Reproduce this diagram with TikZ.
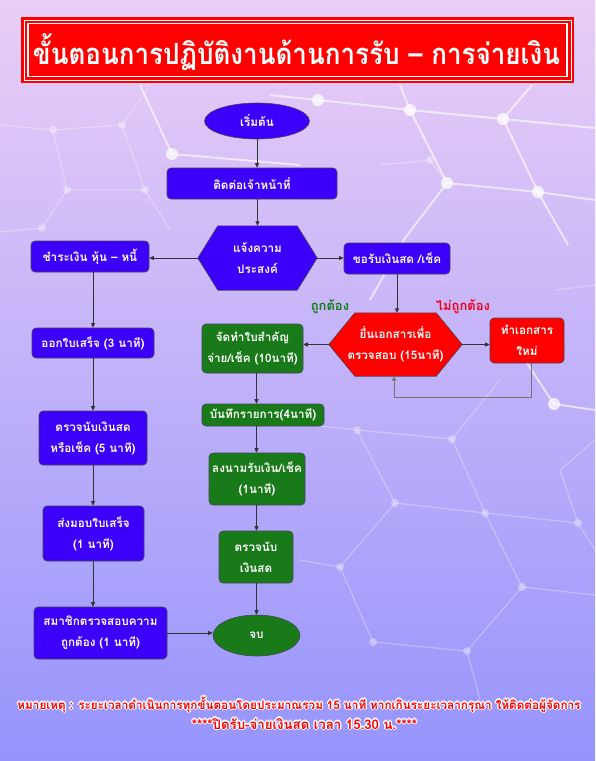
\documentclass[tikz,border=0pt]{standalone}
\usepackage{fontspec}
\setmainfont[Script=Thai]{Loma}
\usepackage{graphicx}
\usetikzlibrary{arrows.meta,shapes.geometric,calc}
\pgfdeclarelayer{back}
\pgfdeclarelayer{mid}
\pgfsetlayers{back,mid,main}
\definecolor{bgtop}{RGB}{234,206,246}
\definecolor{bgmid}{RGB}{182,166,250}
\definecolor{bgbot}{RGB}{150,148,252}
\definecolor{fblue}{RGB}{60,0,250}
\definecolor{fgreen}{RGB}{24,122,24}
\definecolor{fred}{RGB}{255,0,0}
\definecolor{edgec}{RGB}{70,70,85}
\definecolor{okgreen}{RGB}{20,125,20}
\definecolor{nored}{RGB}{240,0,30}
\newcommand{\hexpath}[3]{%
  \path[draw=edgec, line width=0.6pt, fill=#3] (#1.west) -- ([xshift=#2]#1.north west) -- ([xshift=-#2]#1.north east) -- (#1.east) -- ([xshift=-#2]#1.south east) -- ([xshift=#2]#1.south west) -- cycle;}
\newcommand{\outlinedtext}[4]{%
  \foreach \a in {0,45,...,315} \node[anchor=base, text=white, inner sep=0pt] at ($(#2)+(\a:1.4)$) {\bfseries\resizebox{#3}{!}{#4}};
  \node[anchor=base, text=fred, inner sep=0pt] (#1) at (#2) {\bfseries\resizebox{#3}{!}{#4}};}
\begin{document}
\begin{tikzpicture}[x=1pt,y=-1pt,
  txt/.style={text=white, font=\bfseries\fontsize{11.7}{21}\selectfont, align=center, inner sep=0pt},
  box/.style={txt, draw=edgec, line width=0.6pt, rounded corners=4pt},
  bluebox/.style={box, fill=fblue},
  greenbox/.style={box, fill=fgreen},
  redbox/.style={box, fill=fred},
  oval/.style={txt, ellipse, draw=edgec, line width=0.6pt},
  hexn/.style={txt},
  arr/.style={-{Triangle[length=4.5pt,width=4pt]}, line width=0.7pt, draw=black!80},
  bright/.style={white, opacity=0.6, line width=2pt},
  faint/.style={white, opacity=0.3, line width=1.2pt},
  bdot/.style={white, opacity=0.75},
  fdot/.style={white, opacity=0.35}]
\useasboundingbox (0,0) rectangle (595,761);
\begin{pgfonlayer}{back}
\shade[top color=bgtop, middle color=bgmid, bottom color=bgbot] (0,0) rectangle (595,761);
% faint network
\draw[faint] (0,125) -- (53,130) -- (122,125) -- (150,85);
\draw[faint] (53,130) -- (67,190) -- (145,190) -- (122,125);
\draw[faint] (67,190) -- (42,228) -- (0,232);
\draw[faint] (145,190) -- (170,230);
\draw[faint] (310,425) -- (357,430) -- (452,439) -- (500,380);
\draw[faint] (357,430) -- (395,503) -- (485,513) -- (578,523) -- (595,550);
\draw[faint] (452,439) -- (485,513) -- (522,587) -- (467,651) -- (373,642) -- (340,567) -- (395,503);
\draw[faint] (340,567) -- (300,560);
\draw[faint] (522,587) -- (595,595);
\draw[faint] (467,651) -- (480,700);
\draw[faint] (578,523) -- (560,470) -- (595,440);
\draw[faint] (555,290) -- (595,285);
\draw[faint] (447,183) -- (430,160) -- (380,165);
\foreach \p in {(53,130),(122,125),(67,190),(145,190),(42,228),(357,430),(452,439),(395,503),(485,513),(578,523),(340,567),(522,587),(467,651),(373,642),(430,160)}
  \fill[fdot] \p circle (4);
% bright network
\draw[bright] (140,85) -- (172,154) -- (300,165);
\draw[bright] (270,95) -- (318,100) -- (410,110) -- (503,119) -- (595,128);
\draw[bright] (400,85) -- (410,110) -- (447,183) -- (538,192) -- (595,200);
\draw[bright] (503,119) -- (532,85);
\draw[bright] (503,119) -- (538,192) -- (568,245);
\draw[bright] (447,183) -- (405,238) -- (370,300);
\draw[bright] (505,330) -- (554,404) -- (595,410);
\foreach \p in {(172,154),(318,100),(410,110),(503,119),(447,183),(538,192),(554,404)}
  \fill[bdot] \p circle (6);
\end{pgfonlayer}

% title banner
\fill[fred] (21,17) rectangle (574,83);
\draw[white, line width=0.9pt] (24,20) rectangle (571,80);
\draw[white, line width=1.2pt] (28,23.5) rectangle (567,76.5);
\node[anchor=base, text=white, inner sep=0pt] (title) at (296.5,64)
  {\bfseries\resizebox{527pt}{31pt}{ขั้นตอนการปฏิบัติงานด้านการรับ – การจ่ายเงิน}};

% nodes
\node[oval, fill=fblue, minimum width=105pt, minimum height=36pt] (start) at (257,121) {เริ่มต้น};
\node[bluebox, minimum width=170pt, minimum height=31pt] (contact) at (252,183.5) {ติดต่อเจ้าหน้าที่};
\node[hexn, minimum width=119pt, minimum height=64pt] (ask) at (257.5,258) {แจ้งความ\\ประสงค์};
\node[bluebox, minimum width=118pt, minimum height=31pt] (pay) at (90,256.5) {ชำระเงิน หุ้น – หนี้};
\node[bluebox, minimum width=106pt, minimum height=31pt] (recv) at (397,258.5) {ขอรับเงินสด /เช็ค};
\node[hexn, minimum width=133pt, minimum height=63pt] (chk) at (395.5,344.5) {ยื่นเอกสารเพื่อ\\ตรวจสอบ (15นาที)};
\node[redbox, minimum width=74pt, minimum height=45pt] (redo) at (527,340.5) {ทำเอกสาร\\ใหม่};
\node[greenbox, minimum width=101pt, minimum height=49pt] (g1) at (252.5,348.5) {จัดทำใบสำคัญ\\จ่าย/เช็ค (10นาที)};
\node[greenbox, minimum width=122pt, minimum height=22pt] (g2) at (263,415) {บันทึกรายการ(4นาที)};
\node[greenbox, minimum width=96pt, minimum height=52pt] (g3) at (257,479) {ลงนามรับเงิน/เช็ค\\(1นาที)};
\node[greenbox, minimum width=74pt, minimum height=52pt] (g4) at (256,557) {ตรวจนับ\\เงินสด};
\node[oval, fill=fgreen, minimum width=87pt, minimum height=41pt] (end) at (256.5,635.5) {จบ};
\node[bluebox, minimum width=122pt, minimum height=30pt] (b1) at (93,343) {ออกใบเสร็จ (3 นาที)};
\node[bluebox, minimum width=108pt, minimum height=54pt] (b2) at (93,438) {ตรวจนับเงินสด\\หรือเช็ค (5 นาที)};
\node[bluebox, minimum width=101pt, minimum height=55pt] (b3) at (93.5,533.5) {ส่งมอบใบเสร็จ\\(1 นาที)};
\node[bluebox, minimum width=133pt, minimum height=52pt] (b4) at (100.5,633) {สมาชิกตรวจสอบความ\\ถูกต้อง (1 นาที)};
\node[text=okgreen, font=\bfseries\fontsize{13}{15}\selectfont, inner sep=0pt] (ok) at (330,307) {ถูกต้อง};
\node[text=nored, font=\bfseries\fontsize{13}{15}\selectfont, inner sep=0pt] (notok) at (463,307) {ไม่ถูกต้อง};

\begin{pgfonlayer}{mid}
\hexpath{ask}{20pt}{fblue}
\hexpath{chk}{26pt}{fred}
\end{pgfonlayer}

% connectors
\draw[arr] (start.south) -- (contact.north -| start.south);
\draw[arr] (contact.south -| ask.north) -- (ask.north);
\draw[arr] (ask.west) -- (pay.east |- ask.west);
\draw[arr] (ask.east) -- (recv.west |- ask.east);
\draw[arr] (recv.south) -- (chk.north -| recv.south);
\draw[arr] (chk.west) -- (g1.east |- chk.west);
\draw[arr] (chk.east) -- (redo.west |- chk.east);
\coordinate (loopc) at (394,397);
\draw[arr, draw=black!55] ([xshift=4pt]redo.south) |- (loopc) -- (loopc |- chk.south);
\draw[arr] (pay.south -| b1.north) -- (b1.north);
\draw[arr] (b1.south) -- (b2.north);
\draw[arr] (b2.south) -- (b3.north -| b2.south);
\draw[arr] (b3.south -| b2.south) -- (b4.north -| b2.south);
\draw[arr] (b4.east) -- (end.west |- b4.east);
\draw[arr] (g1.south -| end.north) -- (g2.north -| end.north);
\draw[arr] (g2.south -| end.north) -- (g3.north -| end.north);
\draw[arr] (g3.south -| end.north) -- (g4.north -| end.north);
\draw[arr] (g4.south -| end.north) -- (end.north);

% footnotes
\outlinedtext{note1}{299,709}{563pt}{หมายเหตุ : ระยะเวลาดำเนินการทุกขั้นตอนโดยประมาณรวม 15 นาที หากเกินระยะเวลากรุณา ให้ติดต่อผู้จัดการ}
\outlinedtext{note2}{304.5,729}{225pt}{****ปิดรับ-จ่ายเงินสด เวลา 15.30 น.****}
\end{tikzpicture}
\end{document}
